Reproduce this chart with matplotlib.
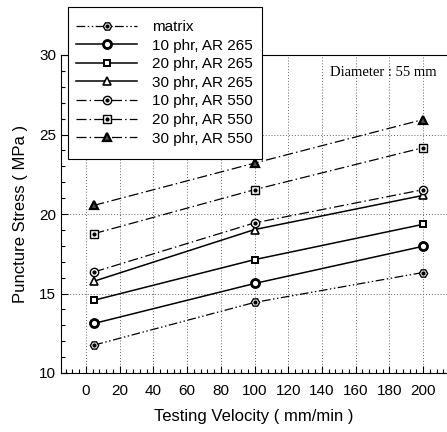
import matplotlib
matplotlib.use("Agg")
import matplotlib.pyplot as plt
from matplotlib.ticker import MultipleLocator
from matplotlib.legend_handler import HandlerTuple
from matplotlib.patches import Rectangle

plt.rcParams['font.family'] = ['Liberation Sans', 'DejaVu Sans']

velocity = [5, 100, 200]
labels = ["matrix", "10 phr, AR 265", "20 phr, AR 265", "30 phr, AR 265",
          "10 phr, AR 550", "20 phr, AR 550", "30 phr, AR 550"]
matrix = [11.76, 14.44, 16.32]
ar265_10 = [13.12, 15.63, 17.97]
ar265_20 = [14.58, 17.13, 19.35]
ar265_30 = [15.78, 19.02, 21.17]
ar550_10 = [16.36, 19.44, 21.53]
ar550_20 = [18.77, 21.53, 24.17]
ar550_30 = [20.55, 23.2, 25.94]
series = [matrix, ar265_10, ar265_20, ar265_30, ar550_10, ar550_20, ar550_30]

dashdotdot = (0, (7, 2, 1.2, 2, 1.2, 2))
dashdot = (0, (8, 2.5, 1.2, 2.5))
styles = [
    dict(ls=dashdotdot, marker='H', ms=6, mew=1.0, mfc='white', dot=True, lw=0.9),
    dict(ls='-', marker='o', ms=5.8, mew=2.0, mfc='white', dot=False, lw=1.1),
    dict(ls='-', marker='s', ms=5, mew=1.4, mfc='white', dot=False, lw=1.1),
    dict(ls='-', marker='^', ms=6, mew=1.2, mfc='white', dot=False, lw=1.1),
    dict(ls=dashdot, marker='o', ms=6, mew=1.0, mfc='white', dot=True, lw=0.9),
    dict(ls=dashdot, marker='s', ms=5.5, mew=1.0, mfc='white', dot=True, lw=0.9),
    dict(ls=dashdot, marker='^', ms=6, mew=1.6, mfc='0.3', dot=False, lw=0.9),
]

fig = plt.figure(figsize=(4.47, 4.32), dpi=100)
ax = fig.add_axes([61/447, 59/432, 1 - 61/447, (373-55)/432])

handles = []
for y, st, lab in zip(series, styles, labels):
    ln, = ax.plot(velocity, y, color='black', ls=st['ls'], lw=st['lw'],
                  marker=st['marker'], ms=st['ms'], mew=st['mew'],
                  mfc=st['mfc'], mec='black', zorder=3)
    if st['dot']:
        d, = ax.plot(velocity, y, ls='none', marker='o', ms=2.0,
                     color='black', zorder=4)
        handles.append((ln, d))
    else:
        handles.append(ln)

ax.set_xlim(-14.8, 214.2)
ax.set_ylim(10, 30)
ax.xaxis.set_major_locator(MultipleLocator(20))
ax.xaxis.set_minor_locator(MultipleLocator(4))
ax.yaxis.set_major_locator(MultipleLocator(5))
ax.yaxis.set_minor_locator(MultipleLocator(1))
ax.set_xticks(list(range(0, 201, 20)))
ax.tick_params(which='both', direction='in', top=False, right=False,
               labelsize=11)
ax.tick_params(which='major', length=5, width=0.8)
ax.tick_params(which='minor', length=3, width=0.8)
ax.tick_params(axis='x', pad=8)
ax.spines['right'].set_visible(False)
ax.grid(True, which='major', ls=(0, (1, 2)), color='0.4', lw=0.7)
ax.set_axisbelow(True)

ax.set_xlabel("Testing Velocity ( mm/min )", fontsize=12, labelpad=8)
ax.set_ylabel("Puncture Stress ( MPa )", fontsize=12, labelpad=8)

ax.text(330/447, 1 - 72/432, "Diameter : 55 mm", transform=fig.transFigure,
        family=['Liberation Serif'], fontsize=10.5, va='center', ha='left')

# legend frame drawn as a figure rectangle
frame = Rectangle((68/447, 1 - 159/432), (262-68)/447, (159-7)/432,
                  transform=fig.transFigure, facecolor='white',
                  edgecolor='black', lw=0.8, zorder=9)
fig.patches.append(frame)

leg = fig.legend(handles, labels, loc='upper left',
                 bbox_to_anchor=(76/447, 1 - 20/432),
                 bbox_transform=fig.transFigure, borderaxespad=0,
                 fontsize=11, labelspacing=0.3, handlelength=4.0,
                 handletextpad=1.0, borderpad=0.0, frameon=False,
                 handler_map={tuple: HandlerTuple(ndivide=1)})
leg.set_zorder(10)

fig.savefig("out.png", dpi=100)
